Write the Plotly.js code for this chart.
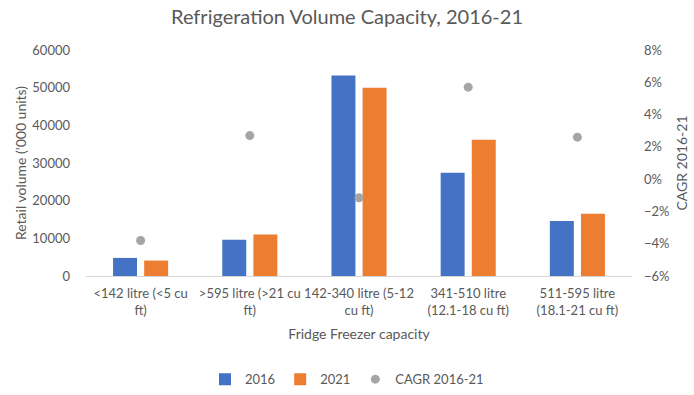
<!DOCTYPE html>
<html>
<head>
<meta charset="utf-8">
<script src="https://cdn.plot.ly/plotly-3.0.1.min.js"></script>
<style>html,body{margin:0;padding:0;background:#fff;}#chart{width:694px;height:395px;}</style>
</head>
<body>
<div id="chart"></div>
<script>
var categories = [
  "<142 litre (<5 cu<br>ft)",
  ">595 litre (>21 cu<br>ft)",
  "142-340 litre (5-12<br>cu ft)",
  "341-510 litre<br>(12.1-18 cu ft)",
  "511-595 litre<br>(18.1-21 cu ft)"
];
var vol2016 = [4800, 9600, 53200, 27400, 14600];
var vol2021 = [4100, 11000, 50000, 36200, 16500];
var cagr = [-0.038, 0.027, -0.0115, 0.057, 0.026];

var font = "Lato, 'Open Sans', sans-serif";
var grey = "#595959";

var traces = [
  {type: "bar", name: "2016", x: categories, y: vol2016, marker: {color: "#4472c4"}},
  {type: "bar", name: "2021", x: categories, y: vol2021, marker: {color: "#ed7d31"}},
  {type: "scatter", mode: "markers", name: "CAGR 2016-21", x: categories, y: cagr, yaxis: "y2",
   marker: {color: "#a5a5a5", size: 9}}
];

var layout = {
  width: 694, height: 395,
  margin: {l: 86, r: 62, t: 50, b: 119, autoexpand: false},
  paper_bgcolor: "#fff", plot_bgcolor: "#fff",
  font: {family: font, color: grey, size: 13},
  title: {text: "Refrigeration Volume Capacity, 2016-21", x: 0.5, xanchor: "center", y: 0.957, yanchor: "middle",
          font: {family: font, size: 20, color: grey}},
  barmode: "group",
  bargap: 0.43,
  bargroupgap: 0.23,
  showlegend: true,
  legend: {orientation: "h", x: 0.5, xref: "container", xanchor: "center", y: 0.04, yref: "container", yanchor: "middle",
           font: {family: font, size: 13, color: grey}, itemwidth: 30, tracegroupgap: 0},
  xaxis: {
    type: "category",
    showline: true, linecolor: "#d9d9d9", linewidth: 1,
    showgrid: false, ticks: "", zeroline: false,
    ticklabelstandoff: 5,
    tickfont: {family: font, size: 13, color: grey},
    title: {text: "Fridge Freezer capacity", font: {family: font, size: 14, color: grey}, standoff: 12}
  },
  yaxis: {
    range: [0, 60000], dtick: 10000, tickformat: "d",
    showgrid: false, showline: false, zeroline: false, ticks: "",
    ticklabelstandoff: 15,
    tickfont: {family: font, size: 13, color: grey},
    title: {text: "Retail volume ('000 units)", font: {family: font, size: 14, color: grey}, standoff: 2}
  },
  yaxis2: {
    overlaying: "y", side: "right",
    range: [-0.06, 0.08], dtick: 0.02, tickformat: ".0%",
    showgrid: false, showline: false, zeroline: false, ticks: "",
    ticklabelstandoff: 11,
    tickfont: {family: font, size: 13, color: grey},
    title: {text: "CAGR 2016-21", font: {family: font, size: 14, color: grey}, standoff: 8}
  }
};

Plotly.newPlot("chart", traces, layout, {displayModeBar: false, responsive: false});
</script>
</body>
</html>
